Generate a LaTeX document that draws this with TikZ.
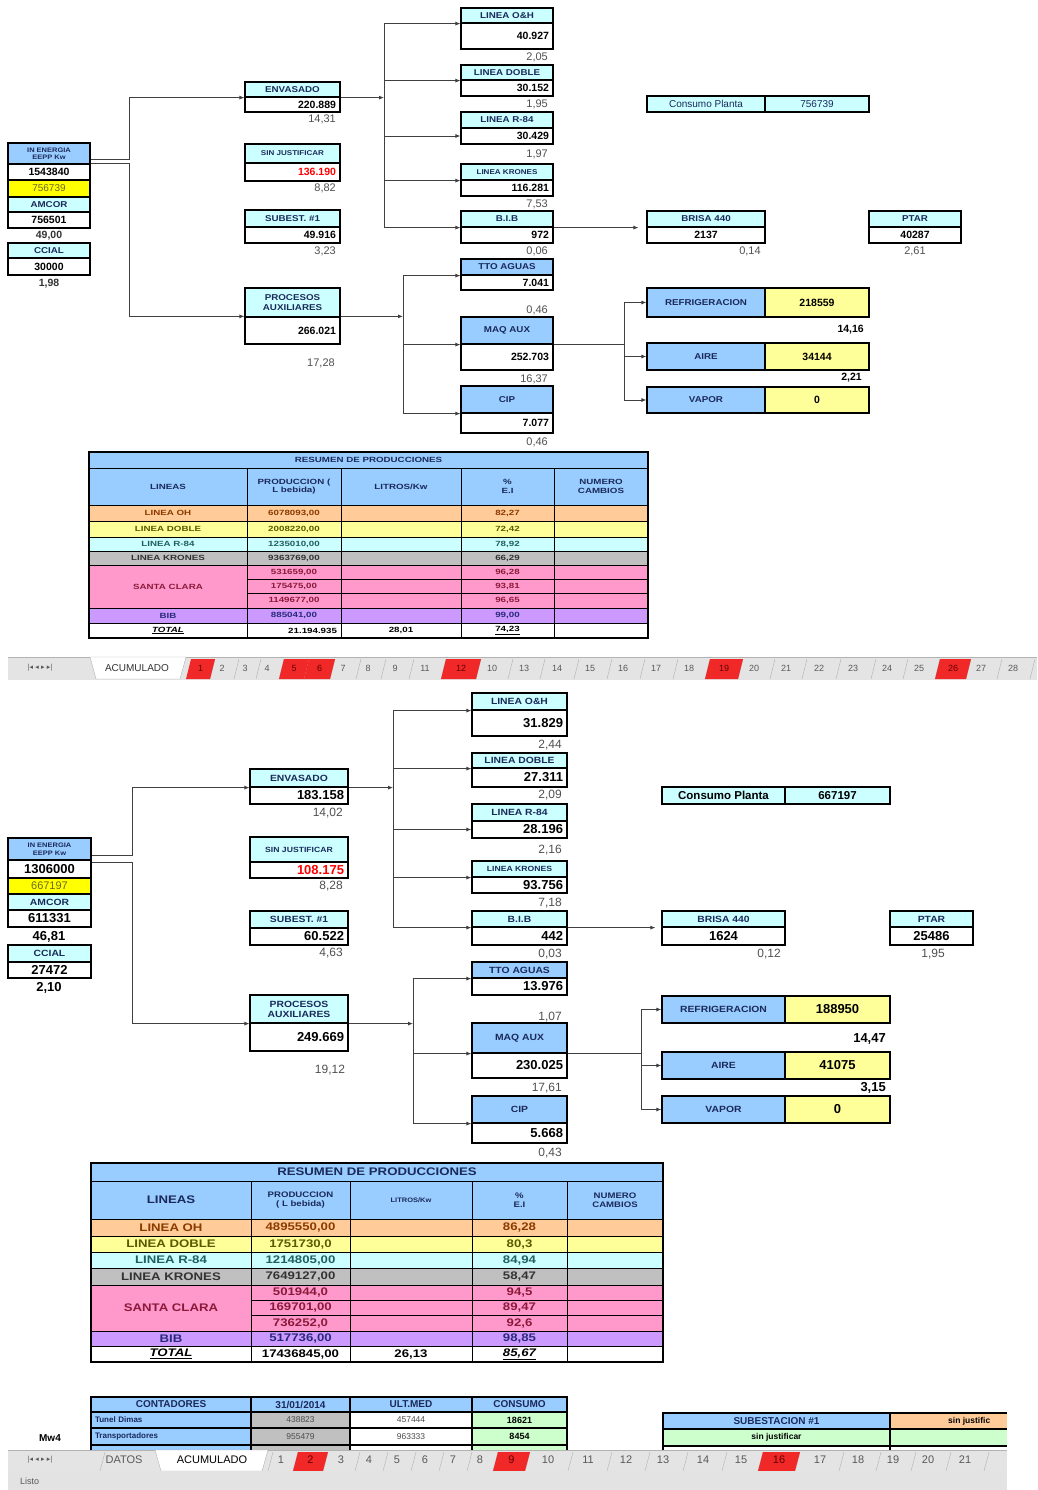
\documentclass[tikz,border=0pt]{standalone}
\usepackage{fontspec}
\setmainfont{Liberation Sans}
\newfontfamily\myhdr{Liberation Sans}[FakeStretch=1.15]
\newfontfamily\mytab{Liberation Sans}[FakeStretch=1.3]
\newfontfamily\mytabB{Liberation Sans}[FakeStretch=1.2]
\newfontfamily\mysym{DejaVu Sans}
\usetikzlibrary{arrows.meta}
\definecolor{cyanL}{HTML}{CCFFFF}
\definecolor{blueL}{HTML}{99CCFF}
\definecolor{yelB}{HTML}{FFFF00}
\definecolor{yelL}{HTML}{FFFF99}
\definecolor{orgL}{HTML}{FFCC99}
\definecolor{pinkL}{HTML}{FF99CC}
\definecolor{purL}{HTML}{CC99FF}
\definecolor{greyL}{HTML}{C0C0C0}
\definecolor{grnL}{HTML}{CCFFCC}
\definecolor{navyT}{HTML}{1A2A5A}
\definecolor{lineC}{HTML}{404040}
\definecolor{tabBg}{HTML}{E4E4E4}
\definecolor{tabRed}{HTML}{F02828}
\definecolor{numG}{HTML}{505050}
\definecolor{cOH}{HTML}{8B3A00}
\definecolor{cDB}{HTML}{5A5A00}
\definecolor{cR}{HTML}{1F6060}
\definecolor{cK}{HTML}{333333}
\definecolor{cSC}{HTML}{8B1A3A}
\definecolor{cBIB}{HTML}{2A2A7A}
\newcommand\myfH{\myhdr\bfseries\fontsize{8.5}{9.5}\selectfont}
\newcommand\myfHs{\myhdr\bfseries\fontsize{7}{8}\selectfont}
\newcommand\myfHt{\myhdr\bfseries\fontsize{6.5}{7}\selectfont}
\newcommand\myfV{\bfseries\fontsize{10.5}{11}\selectfont}
\newcommand\myfVn{\fontsize{10}{11}\selectfont}
\newcommand\myfN{\fontsize{11}{12}\selectfont}
\newcommand\mygH{\myhdr\bfseries\fontsize{9}{10}\selectfont}
\newcommand\mygHs{\myhdr\bfseries\fontsize{7.5}{8.5}\selectfont}
\newcommand\mygHt{\myhdr\bfseries\fontsize{6.5}{7.5}\selectfont}
\newcommand\mygV{\bfseries\fontsize{13}{14}\selectfont}
\newcommand\mygVn{\fontsize{11}{12}\selectfont}
\newcommand\mygN{\fontsize{12}{13}\selectfont}
\newcommand\myTA{\mytab\bfseries\fontsize{7.5}{8.5}\selectfont}
\newcommand\myTB{\mytabB\bfseries\fontsize{11}{12}\selectfont}
\newcommand\myTBh{\mytabB\bfseries\fontsize{8}{9}\selectfont}
% cell: [opts]{name}{x1}{y1}{x2}{y2}{text}
\newcommand\cel[7][]{%
 \pgfmathsetmacro\cw{#5-#3}\pgfmathsetmacro\ch{#6-#4}\pgfmathsetmacro\tw{#5-#3-8}%
 \node[cellst, minimum width=\cw pt, minimum height=\ch pt, #1] (#2) at ({(#3+#5)/2},{(#4+#6)/2}) {#7};}
\newcommand\trow[9]{%
 \cel[tcell, fill=#4, text=#5]{#1a}{\tXa}{#2}{\tXb}{#3}{#6}%
 \cel[tcell, fill=#4, text=#5]{#1b}{\tXb}{#2}{\tXc}{#3}{#7}%
 \cel[tcell, fill=#4, text=#5]{#1c}{\tXc}{#2}{\tXd}{#3}{#8}%
 \cel[tcell, fill=#4, text=#5]{#1d}{\tXd}{#2}{\tXe}{#3}{#9}%
 \cel[tcell, fill=#4, text=#5]{#1e}{\tXe}{#2}{\tXf}{#3}{}}
\newcommand\trowS[7]{%
 \cel[tcell, fill=pinkL, text=cSC]{#1b}{\tXb}{#2}{\tXc}{#3}{#4}%
 \cel[tcell, fill=pinkL, text=cSC]{#1c}{\tXc}{#2}{\tXd}{#3}{#5}%
 \cel[tcell, fill=pinkL, text=cSC]{#1d}{\tXd}{#2}{\tXe}{#3}{#6}%
 \cel[tcell, fill=pinkL, text=cSC]{#1e}{\tXe}{#2}{\tXf}{#3}{#7}}
\begin{document}
\begin{tikzpicture}[x=1pt,y=-1pt,
 cellst/.style={draw=black, line width=1.2pt, inner sep=0pt, inner xsep=3pt, align=center},
 hc/.style={fill=cyanL, text=navyT},
 hb/.style={fill=blueL, text=navyT},
 vc/.style={fill=white, text=black},
 ra/.style={align=right, text width=\tw pt},
 la/.style={align=left, text width=\tw pt},
 numst/.style={inner sep=0pt, text=numG},
 arr/.style={draw=lineC, line width=0.8pt, -{Latex[length=5pt,width=4pt]}},
 ln/.style={draw=lineC, line width=0.8pt},
 tcell/.style={cellst, line width=0.6pt},
 tabtxt/.style={inner sep=0pt, text=gray!70!black},
]
\useasboundingbox (0,0) rectangle (1037,1490);
\fill[white] (0,0) rectangle (1037,1490);

%================ TOP SCREENSHOT =================
% left column
\cel[hb, font=\myfHt]{ieAh}{8}{143}{90}{164}{IN ENERGIA\\EEPP Kw}
\cel[vc, font=\myfV]{ieAv}{8}{164}{90}{180}{1543840}
\cel[fill=yelB, text=olive!70!black, font=\myfVn]{ieAy}{8}{180}{90}{197}{756739}
\cel[hc, font=\myfH]{amAh}{8}{197}{90}{212}{AMCOR}
\cel[vc, font=\myfV]{amAv}{8}{212}{90}{228}{756501}
\node[numst, text=black!80, font=\myfV] (amAp) at (49,236) {49,00};
\cel[hc, font=\myfH]{ccAh}{8}{243}{90}{258}{CCIAL}
\cel[vc, font=\myfV]{ccAv}{8}{258}{90}{275}{30000}
\node[numst, text=black!80, font=\myfV] (ccAp) at (49,284) {1,98};
% middle column
\cel[hc, font=\myfH]{envAh}{245}{82}{340}{97}{ENVASADO}
\cel[vc, ra, font=\myfV]{envAv}{245}{97}{340}{112}{220.889}
\node[numst, anchor=east, font=\myfN] (envAp) at (336,119) {14,31};
\cel[hc, font=\myfHs]{sjAh}{245}{144}{340}{163}{SIN JUSTIFICAR}
\cel[vc, ra, text=red, font=\myfV]{sjAv}{245}{163}{340}{181}{136.190}
\node[numst, anchor=east, font=\myfN] (sjAp) at (336,188) {8,82};
\cel[hc, font=\myfH]{sbAh}{245}{210}{340}{227}{SUBEST. \#1}
\cel[vc, ra, font=\myfV]{sbAv}{245}{227}{340}{243}{49.916}
\node[numst, anchor=east, font=\myfN] (sbAp) at (336,251) {3,23};
\cel[hc, font=\myfH]{paAh}{245}{288}{340}{317}{PROCESOS\\AUXILIARES}
\cel[vc, ra, font=\myfV]{paAv}{245}{317}{340}{344}{266.021}
\node[numst, font=\myfN] (paAp) at (321,363) {17,28};
% right column
\cel[hc, font=\myfH]{ohAh}{461}{8}{553}{23}{LINEA O\&H}
\cel[vc, ra, font=\myfV]{ohAv}{461}{23}{553}{49}{40.927}
\node[numst, anchor=east, font=\myfN] (ohAp) at (548,57) {2,05};
\cel[hc, font=\myfH]{dbAh}{461}{65}{553}{80}{LINEA DOBLE}
\cel[vc, ra, font=\myfV]{dbAv}{461}{80}{553}{96}{30.152}
\node[numst, anchor=east, font=\myfN] (dbAp) at (548,104) {1,95};
\cel[hc, font=\myfH]{rAh}{461}{112}{553}{128}{LINEA R-84}
\cel[vc, ra, font=\myfV]{rAv}{461}{128}{553}{144}{30.429}
\node[numst, anchor=east, font=\myfN] (rAp) at (548,154) {1,97};
\cel[hc, font=\myfHs]{krAh}{461}{164}{553}{180}{LINEA KRONES}
\cel[vc, ra, font=\myfV]{krAv}{461}{180}{553}{196}{116.281}
\node[numst, anchor=east, font=\myfN] (krAp) at (548,204) {7,53};
\cel[hc, font=\myfH]{bibAh}{461}{211}{553}{227}{B.I.B}
\cel[vc, ra, font=\myfV]{bibAv}{461}{227}{553}{243}{972}
\node[numst, anchor=east, font=\myfN] (bibAp) at (548,251) {0,06};
\cel[hb, font=\myfH]{ttoAh}{461}{259}{553}{275}{TTO AGUAS}
\cel[vc, ra, font=\myfV]{ttoAv}{461}{275}{553}{290}{7.041}
\node[numst, anchor=east, font=\myfN] (ttoAp) at (548,310) {0,46};
\cel[hb, font=\myfH]{maqAh}{461}{317}{553}{344}{MAQ AUX}
\cel[vc, ra, font=\myfV]{maqAv}{461}{344}{553}{370}{252.703}
\node[numst, anchor=east, font=\myfN] (maqAp) at (548,379) {16,37};
\cel[hb, font=\myfH]{cipAh}{461}{386}{553}{413}{CIP}
\cel[vc, ra, font=\myfV]{cipAv}{461}{413}{553}{433}{7.077}
\node[numst, anchor=east, font=\myfN] (cipAp) at (548,442) {0,46};
% far right
\cel[hc, font=\myfVn]{cpAa}{647}{96}{765}{112}{Consumo Planta}
\cel[hc, font=\myfVn]{cpAb}{765}{96}{869}{112}{756739}
\cel[hc, font=\myfH]{brAh}{647}{211}{765}{227}{BRISA 440}
\cel[vc, font=\myfV]{brAv}{647}{227}{765}{243}{2137}
\node[numst, font=\myfN] (brAp) at (750,251) {0,14};
\cel[hc, font=\myfH]{ptAh}{869}{211}{961}{227}{PTAR}
\cel[vc, font=\myfV]{ptAv}{869}{227}{961}{243}{40287}
\node[numst, font=\myfN] (ptAp) at (915,251) {2,61};
\cel[hb, font=\myfH]{refAa}{647}{288}{765}{317}{REFRIGERACION}
\cel[fill=yelL, text=black, font=\myfV]{refAb}{765}{288}{869}{317}{218559}
\node[numst, anchor=east, text=black, font=\myfV] (refAp) at (864,330) {14,16};
\cel[hb, font=\myfH]{aiAa}{647}{343}{765}{370}{AIRE}
\cel[fill=yelL, text=black, font=\myfV]{aiAb}{765}{343}{869}{370}{34144}
\node[numst, anchor=east, text=black, font=\myfV] (aiAp) at (862,378) {2,21};
\cel[hb, font=\myfH]{vapAa}{647}{387}{765}{413}{VAPOR}
\cel[fill=yelL, text=black, font=\myfV]{vapAb}{765}{387}{869}{413}{0}
% connectors top
\coordinate (jA) at (129,0);
\coordinate (busA) at (384,0);
\coordinate (busB) at (403,0);
\coordinate (busC) at (624,0);
\draw[arr] ([yshift=4pt]ieAv.north east) -| (jA |- envAh.south west) -- (envAh.south west);
\draw[arr] (ieAv.north east) -| (jA |- paAv.north west) -- (paAv.north west);
\draw[arr] (envAh.south east) -- (busA |- envAh.south east);
\draw[arr] (busA |- bibAh.south west) |- (ohAh.south west);
\draw[arr] (busA |- dbAh.south west) -- (dbAh.south west);
\draw[arr] (busA |- rAv.west) -- (rAv.west);
\draw[arr] (busA |- krAh.south west) -- (krAh.south west);
\draw[arr] (busA |- bibAh.south west) -- (bibAh.south west);
\draw[arr, shorten >=8pt] (bibAh.south east) -- (brAh.south west);
\draw[arr] (paAv.north east) -- (busB |- paAv.north east);
\draw[arr] (busB |- cipAh.south west) |- (ttoAh.south west);
\draw[arr] (busB |- maqAh.south west) -- (maqAh.south west);
\draw[arr] (busB |- cipAh.south west) -- (cipAh.south west);
\draw[ln] (maqAh.south east) -- (busC |- maqAh.south east);
\draw[arr] (busC |- vapAa.west) |- (refAa.west);
\draw[arr] (busC |- aiAa.west) -- (aiAa.west);
\draw[arr] (busC |- vapAa.west) -- (vapAa.west);
% table 1
\def\tXa{89}\def\tXb{247}\def\tXc{341}\def\tXd{461}\def\tXe{554}\def\tXf{648}
\begin{scope}[tcell/.append style={font=\myTA}]
\cel[tcell, fill=blueL, text=navyT]{t1title}{\tXa}{452}{\tXf}{468}{RESUMEN DE PRODUCCIONES}
\trow{t1h}{468}{505}{blueL}{navyT}{LINEAS}{PRODUCCION (\\L bebida)}{LITROS/Kw}{\%\\E.I}
\node[font=\myTA, text=navyT, align=center, inner sep=0pt] (t1hn) at (t1he) {NUMERO\\CAMBIOS};
\trow{t1oh}{505}{521}{orgL}{cOH}{LINEA OH}{6078093,00}{}{82,27}
\trow{t1db}{521}{537}{yelL}{cDB}{LINEA DOBLE}{2008220,00}{}{72,42}
\trow{t1r}{537}{551}{cyanL}{cR}{LINEA R-84}{1235010,00}{}{78,92}
\trow{t1k}{551}{565}{greyL}{cK}{LINEA KRONES}{9363769,00}{}{66,29}
\cel[tcell, fill=pinkL, text=cSC]{t1sca}{\tXa}{565}{\tXb}{608}{SANTA CLARA}
\trowS{t1s1}{565}{579}{531659,00}{}{96,28}{}
\trowS{t1s2}{579}{593}{175475,00}{}{93,81}{}
\trowS{t1s3}{593}{608}{1149677,00}{}{96,65}{}
\trow{t1b}{608}{623}{purL}{cBIB}{BIB}{885041,00}{}{99,00}
\cel[tcell, fill=white, text=black]{t1ta}{\tXa}{623}{\tXb}{638}{\underline{\itshape TOTAL}}
\cel[tcell, fill=white, text=black, ra]{t1tb}{\tXb}{623}{\tXc}{638}{21.194.935}
\cel[tcell, fill=white, text=black]{t1tc}{\tXc}{623}{\tXd}{638}{28,01}
\cel[tcell, fill=white, text=black]{t1td}{\tXd}{623}{\tXe}{638}{\underline{74,23}}
\cel[tcell, fill=white, text=black]{t1te}{\tXe}{623}{\tXf}{638}{}
\end{scope}
\draw[line width=1.3pt] (\tXa,452) rectangle (\tXf,638);
% tab bar top
\fill[tabBg] (8,657) rectangle (1037,680);
\draw[gray!60] (8,657) -- (1037,657);
\node[tabtxt, font=\mysym\fontsize{7}{8}\selectfont] (navA) at (40,668) {|◂ ◂ ▸ ▸|};
\draw[gray!60, fill=white] (90,657) -- (186,657) -- (180,679) -- (96,679) -- cycle;
\node[tabtxt, text=black!80, font=\fontsize{10}{11}\selectfont] (acuA) at (137,668) {ACUMULADO};
\foreach \sx in {210,234,256,279,304,330,356,381,409,441,476,508,540,574,607,640,673,705,738,770,802,836,871,903,935,966,997,1030}
  \draw[gray!60] (\sx,679) -- (\sx+5,659);
\foreach \ra/\rb/\rl in {186/210/1,279/304/5,304/330/6,441/476/12,705/738/19,935/966/26}
  {\fill[tabRed] (\ra,679) -- (\ra+5,659) -- (\rb+5,659) -- (\rb,679) -- cycle;
   \node[tabtxt, text=red!40!black, font=\fontsize{9}{10}\selectfont] (rt\rl) at ({(\ra+\rb)/2+2.5},668) {\rl};}
\foreach \tl/\tx in {2/222,3/245,4/267,7/343,8/368,9/395,11/425,10/492,13/524,14/557,15/590,16/623,17/656,18/689,20/754,21/786,22/819,23/853,24/887,25/919,27/981,28/1013}
  \node[tabtxt, font=\fontsize{9}{10}\selectfont] (tA\tl) at (\tx,668) {\tl};

%================ BOTTOM SCREENSHOT =================
\cel[hb, font=\mygHt]{ieBh}{8}{838}{91}{860}{IN ENERGIA\\EEPP Kw}
\cel[vc, font=\mygV]{ieBv}{8}{860}{91}{878}{1306000}
\cel[fill=yelB, text=olive!70!black, font=\mygVn]{ieBy}{8}{878}{91}{894}{667197}
\cel[hc, font=\mygH]{amBh}{8}{894}{91}{910}{AMCOR}
\cel[vc, font=\mygV]{amBv}{8}{910}{91}{927}{611331}
\node[numst, text=black, font=\mygV] (amBp) at (49,937) {46,81};
\cel[hc, font=\mygH]{ccBh}{8}{945}{91}{962}{CCIAL}
\cel[vc, font=\mygV]{ccBv}{8}{962}{91}{978}{27472}
\node[numst, text=black, font=\mygV] (ccBp) at (49,988) {2,10};
% middle
\cel[hc, font=\mygH]{envBh}{250}{769}{348}{787}{ENVASADO}
\cel[vc, ra, font=\mygV]{envBv}{250}{787}{348}{804}{183.158}
\node[numst, anchor=east, font=\mygN] (envBp) at (343,813) {14,02};
\cel[hc, font=\mygHs]{sjBh}{250}{837}{348}{862}{SIN JUSTIFICAR}
\cel[vc, ra, text=red, font=\mygV]{sjBv}{250}{862}{348}{878}{108.175}
\node[numst, anchor=east, font=\mygN] (sjBp) at (343,886) {8,28};
\cel[hc, font=\mygH]{sbBh}{250}{911}{348}{928}{SUBEST. \#1}
\cel[vc, ra, font=\mygV]{sbBv}{250}{928}{348}{945}{60.522}
\node[numst, anchor=east, font=\mygN] (sbBp) at (343,953) {4,63};
\cel[hc, font=\mygH]{paBh}{250}{995}{348}{1023}{PROCESOS\\AUXILIARES}
\cel[vc, ra, font=\mygV]{paBv}{250}{1023}{348}{1051}{249.669}
\node[numst, font=\mygN] (paBp) at (330,1070) {19,12};
% right column
\cel[hc, font=\mygH]{ohBh}{472}{693}{567}{710}{LINEA O\&H}
\cel[vc, ra, font=\mygV]{ohBv}{472}{710}{567}{736}{31.829}
\node[numst, anchor=east, font=\mygN] (ohBp) at (562,745) {2,44};
\cel[hc, font=\mygH]{dbBh}{472}{753}{567}{768}{LINEA DOBLE}
\cel[vc, ra, font=\mygV]{dbBv}{472}{768}{567}{787}{27.311}
\node[numst, anchor=east, font=\mygN] (dbBp) at (562,795) {2,09};
\cel[hc, font=\mygH]{rBh}{472}{804}{567}{821}{LINEA R-84}
\cel[vc, ra, font=\mygV]{rBv}{472}{821}{567}{838}{28.196}
\node[numst, anchor=east, font=\mygN] (rBp) at (562,850) {2,16};
\cel[hc, font=\mygHs]{krBh}{472}{861}{567}{877}{LINEA KRONES}
\cel[vc, ra, font=\mygV]{krBv}{472}{877}{567}{893}{93.756}
\node[numst, anchor=east, font=\mygN] (krBp) at (562,903) {7,18};
\cel[hc, font=\mygH]{bibBh}{472}{911}{567}{927}{B.I.B}
\cel[vc, ra, font=\mygV]{bibBv}{472}{927}{567}{945}{442}
\node[numst, anchor=east, font=\mygN] (bibBp) at (562,954) {0,03};
\cel[hb, font=\mygH]{ttoBh}{472}{962}{567}{978}{TTO AGUAS}
\cel[vc, ra, font=\mygV]{ttoBv}{472}{978}{567}{995}{13.976}
\node[numst, anchor=east, font=\mygN] (ttoBp) at (562,1017) {1,07};
\cel[hb, font=\mygH]{maqBh}{472}{1023}{567}{1053}{MAQ AUX}
\cel[vc, ra, font=\mygV]{maqBv}{472}{1053}{567}{1078}{230.025}
\node[numst, anchor=east, font=\mygN] (maqBp) at (562,1088) {17,61};
\cel[hb, font=\mygH]{cipBh}{472}{1096}{567}{1123}{CIP}
\cel[vc, ra, font=\mygV]{cipBv}{472}{1123}{567}{1143}{5.668}
\node[numst, anchor=east, font=\mygN] (cipBp) at (562,1153) {0,43};
% far right
\cel[hc, text=black, font=\bfseries\fontsize{11.5}{12}\selectfont]{cpBa}{662}{787}{785}{804}{Consumo Planta}
\cel[hc, text=black, font=\bfseries\fontsize{11.5}{12}\selectfont]{cpBb}{785}{787}{890}{804}{667197}
\cel[hc, font=\mygH]{brBh}{662}{911}{785}{927}{BRISA 440}
\cel[vc, font=\mygV]{brBv}{662}{927}{785}{945}{1624}
\node[numst, font=\mygN] (brBp) at (769,954) {0,12};
\cel[hc, font=\mygH]{ptBh}{890}{911}{973}{927}{PTAR}
\cel[vc, font=\mygV]{ptBv}{890}{927}{973}{945}{25486}
\node[numst, font=\mygN] (ptBp) at (933,954) {1,95};
\cel[hb, font=\mygH]{refBa}{662}{996}{785}{1023}{REFRIGERACION}
\cel[fill=yelL, text=black, font=\mygV]{refBb}{785}{996}{890}{1023}{188950}
\node[numst, anchor=east, text=black, font=\mygV] (refBp) at (886,1039) {14,47};
\cel[hb, font=\mygH]{aiBa}{662}{1052}{785}{1079}{AIRE}
\cel[fill=yelL, text=black, font=\mygV]{aiBb}{785}{1052}{890}{1079}{41075}
\node[numst, anchor=east, text=black, font=\mygV] (aiBp) at (886,1088) {3,15};
\cel[hb, font=\mygH]{vapBa}{662}{1096}{785}{1123}{VAPOR}
\cel[fill=yelL, text=black, font=\mygV]{vapBb}{785}{1096}{890}{1123}{0}
% connectors bottom
\coordinate (jB) at (132,0);
\coordinate (busD) at (393,0);
\coordinate (busE) at (413,0);
\coordinate (busF) at (641,0);
\draw[arr] ([yshift=5pt]ieBh.south east) -| (jB |- envBh.south west) -- (envBh.south west);
\draw[arr] ([yshift=-2pt]ieBh.south east) -| (jB |- paBh.south west) -- (paBh.south west);
\draw[arr] (envBh.south east) -- (busD |- envBh.south east);
\draw[arr] (busD |- bibBh.south west) |- (ohBh.south west);
\draw[arr] (busD |- dbBh.south west) -- (dbBh.south west);
\draw[arr] (busD |- rBv.west) -- (rBv.west);
\draw[arr] (busD |- krBh.south west) -- (krBh.south west);
\draw[arr] (busD |- bibBh.south west) -- (bibBh.south west);
\draw[arr, shorten >=6pt] (bibBh.south east) -- (brBh.south west);
\draw[arr] (paBh.south east) -- (busE |- paBh.south east);
\draw[arr] (busE |- cipBh.south west) |- (ttoBh.south west);
\draw[arr] (busE |- maqBh.south west) -- (maqBh.south west);
\draw[arr] (busE |- cipBh.south west) -- (cipBh.south west);
\draw[ln] (maqBh.south east) -- (busF |- maqBh.south east);
\draw[arr] (busF |- vapBa.west) |- (refBa.west);
\draw[arr] (busF |- aiBa.west) -- (aiBa.west);
\draw[arr] (busF |- vapBa.west) -- (vapBa.west);
% table 2
\def\tXa{91}\def\tXb{251}\def\tXc{350}\def\tXd{472}\def\tXe{567}\def\tXf{663}
\begin{scope}[tcell/.append style={font=\myTB}]
\cel[tcell, fill=blueL, text=navyT]{t2title}{\tXa}{1163}{\tXf}{1181}{RESUMEN DE PRODUCCIONES}
\cel[tcell, fill=blueL, text=navyT]{t2ha}{\tXa}{1181}{\tXb}{1219}{LINEAS}
\cel[tcell, fill=blueL, text=navyT, font=\myTBh]{t2hb}{\tXb}{1181}{\tXc}{1219}{PRODUCCION\\( L bebida)}
\cel[tcell, fill=blueL, text=navyT, font=\mygHt]{t2hc}{\tXc}{1181}{\tXd}{1219}{LITROS/Kw}
\cel[tcell, fill=blueL, text=navyT, font=\myTBh]{t2hd}{\tXd}{1181}{\tXe}{1219}{\%\\E.I}
\cel[tcell, fill=blueL, text=navyT, font=\myTBh]{t2he}{\tXe}{1181}{\tXf}{1219}{NUMERO\\CAMBIOS}
\trow{t2oh}{1219}{1236}{orgL}{cOH}{LINEA OH}{4895550,00}{}{86,28}
\trow{t2db}{1236}{1252}{yelL}{cDB}{LINEA DOBLE}{1751730,0}{}{80,3}
\trow{t2r}{1252}{1268}{cyanL}{cR}{LINEA R-84}{1214805,00}{}{84,94}
\trow{t2k}{1268}{1285}{greyL}{cK}{LINEA KRONES}{7649127,00}{}{58,47}
\cel[tcell, fill=pinkL, text=cSC]{t2sca}{\tXa}{1285}{\tXb}{1331}{SANTA CLARA}
\trowS{t2s1}{1285}{1300}{501944,0}{}{94,5}{}
\trowS{t2s2}{1300}{1315}{169701,00}{}{89,47}{}
\trowS{t2s3}{1315}{1331}{736252,0}{}{92,6}{}
\trow{t2b}{1331}{1346}{purL}{cBIB}{BIB}{517736,00}{}{98,85}
\cel[tcell, fill=white, text=black]{t2ta}{\tXa}{1346}{\tXb}{1362}{\underline{\itshape TOTAL}}
\cel[tcell, fill=white, text=black]{t2tb}{\tXb}{1346}{\tXc}{1362}{17436845,00}
\cel[tcell, fill=white, text=black]{t2tc}{\tXc}{1346}{\tXd}{1362}{26,13}
\cel[tcell, fill=white, text=black]{t2td}{\tXd}{1346}{\tXe}{1362}{\underline{\itshape 85,67}}
\cel[tcell, fill=white, text=black]{t2te}{\tXe}{1346}{\tXf}{1362}{}
\end{scope}
\draw[line width=1.3pt] (\tXa,1163) rectangle (\tXf,1362);
% contadores
\begin{scope}[cellst/.append style={font=\bfseries\fontsize{10}{11}\selectfont}]
\cel[hb, text=navyT]{coHa}{91}{1397}{251}{1412}{CONTADORES}
\cel[hb, text=navyT]{coHb}{251}{1397}{350}{1412}{31/01/2014}
\cel[hb, text=navyT]{coHc}{350}{1397}{472}{1412}{ULT.MED}
\cel[hb, text=navyT]{coHd}{472}{1397}{567}{1412}{CONSUMO}
\cel[hb, la, text=navyT, font=\bfseries\fontsize{8}{9}\selectfont]{co1a}{91}{1412}{251}{1428}{Tunel Dimas}
\cel[fill=greyL, text=black!70, font=\fontsize{8.5}{9}\selectfont]{co1b}{251}{1412}{350}{1428}{438823}
\cel[fill=white, text=black!70, font=\fontsize{8.5}{9}\selectfont]{co1c}{350}{1412}{472}{1428}{457444}
\cel[fill=grnL, text=black, font=\bfseries\fontsize{9}{10}\selectfont]{co1d}{472}{1412}{567}{1428}{18621}
\cel[hb, la, text=navyT, font=\bfseries\fontsize{8}{9}\selectfont]{co2a}{91}{1428}{251}{1445}{Transportadores}
\cel[fill=greyL, text=black!70, font=\fontsize{8.5}{9}\selectfont]{co2b}{251}{1428}{350}{1445}{955479}
\cel[fill=white, text=black!70, font=\fontsize{8.5}{9}\selectfont]{co2c}{350}{1428}{472}{1445}{963333}
\cel[fill=grnL, text=black, font=\bfseries\fontsize{9}{10}\selectfont]{co2d}{472}{1428}{567}{1445}{8454}
\cel[hb]{co3a}{91}{1445}{251}{1462}{}
\cel[fill=greyL]{co3b}{251}{1445}{350}{1462}{}
\cel[fill=white]{co3c}{350}{1445}{472}{1462}{}
\cel[fill=grnL]{co3d}{472}{1445}{567}{1462}{}
\cel[hb, text=navyT]{suH}{663}{1413}{890}{1429}{SUBESTACION \#1}
\cel[fill=orgL]{suO}{890}{1413}{1030}{1429}{}
\cel[fill=grnL, text=black, font=\bfseries\fontsize{8.5}{9}\selectfont]{su2a}{663}{1429}{890}{1446}{sin justificar}
\cel[fill=grnL]{su2b}{890}{1429}{1030}{1446}{}
\cel[fill=white]{su3a}{663}{1446}{890}{1462}{}
\cel[fill=white]{su3b}{890}{1446}{1030}{1462}{}
\end{scope}
\node[inner sep=0pt, anchor=west, text=black, font=\bfseries\fontsize{8.5}{9}\selectfont] (suOt) at (948,1421) {sin justific};
\node[inner sep=0pt, text=black, font=\bfseries\fontsize{10}{11}\selectfont] (mw4) at (50,1438) {Mw4};
\fill[white] (1007,1390) rectangle (1037,1490);
% tab bar bottom
\fill[tabBg] (8,1450) rectangle (1007,1471);
\draw[gray!60] (8,1450) -- (1007,1450);
\node[tabtxt, font=\mysym\fontsize{7}{8}\selectfont] (navB) at (40,1460) {|◂ ◂ ▸ ▸|};
\node[tabtxt, font=\fontsize{11}{12}\selectfont] (datB) at (124,1460) {DATOS};
\draw[gray!60, fill=white] (155,1450) -- (268,1450) -- (262,1471) -- (161,1471) -- cycle;
\node[tabtxt, text=black, font=\fontsize{11}{12}\selectfont] (acuB) at (212,1460) {ACUMULADO};
\foreach \sx in {100,268,293,323,355,383,411,439,467,493,525,568,607,645,683,722,758,795,839,876,911,946,984}
  \draw[gray!60] (\sx,1471) -- (\sx+5,1452);
\foreach \ra/\rb/\rl in {293/323/2,493/525/9,758/795/16}
  {\fill[tabRed] (\ra,1471) -- (\ra+5,1452) -- (\rb+5,1452) -- (\rb,1471) -- cycle;
   \node[tabtxt, text=red!40!black, font=\fontsize{11}{12}\selectfont] (rb\rl) at ({(\ra+\rb)/2+2.5},1460) {\rl};}
\foreach \tl/\tx in {1/281,3/341,4/369,5/397,6/425,7/453,8/480,10/548,11/588,12/626,13/663,14/703,15/741,17/820,18/858,19/893,20/928,21/965}
  \node[tabtxt, font=\fontsize{11}{12}\selectfont] (tB\tl) at (\tx,1460) {\tl};
% status bar
\fill[gray!22] (8,1471) rectangle (1007,1490);
\node[tabtxt, anchor=west, font=\fontsize{9}{10}\selectfont] (listo) at (20,1481) {Listo};
\end{tikzpicture}
\end{document}
